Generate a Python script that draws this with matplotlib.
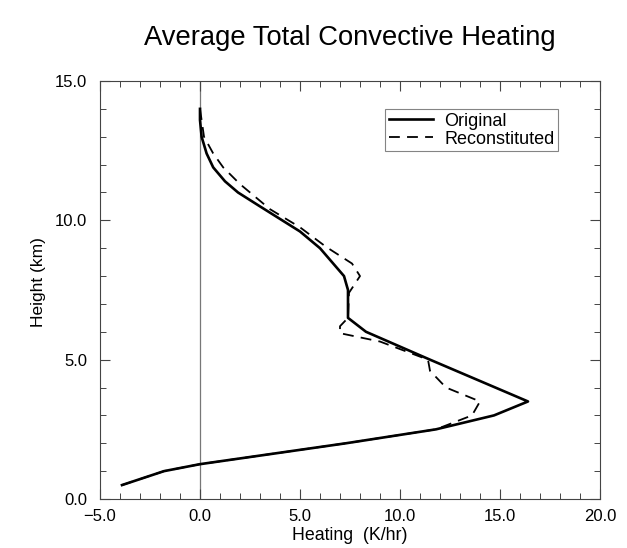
import matplotlib
matplotlib.use("Agg")
import matplotlib.pyplot as plt
from matplotlib.ticker import MultipleLocator, FuncFormatter

plt.rcParams['font.family'] = ['Liberation Sans', 'DejaVu Sans']

# Original profile (heating K/hr vs height km)
orig_heat = [-3.9, -1.8, 0.0, 7.3, 11.8, 14.7, 16.4, 11.5, 8.3, 7.4, 7.4, 7.2, 6.0, 5.0, 3.0, 1.9, 1.25, 0.66, 0.33, 0.08, 0.0, 0.0]
orig_z    = [0.5, 1.0, 1.25, 2.0, 2.5, 3.0, 3.5, 5.0, 6.0, 6.5, 7.5, 8.0, 9.0, 9.6, 10.5, 11.0, 11.4, 11.9, 12.4, 13.0, 13.6, 14.0]

# Reconstituted profile
rec_heat = [-3.9, -1.8, 0.0, 7.3, 11.8, 13.6, 14.0, 12.3, 11.5, 11.4, 9.0, 7.0, 7.0, 7.4, 7.45, 8.0, 7.6, 6.3, 5.0, 3.5, 2.0, 1.16, 0.66, 0.2, 0.08, 0.0]
rec_z    = [0.5, 1.0, 1.25, 2.0, 2.5, 3.0, 3.5, 4.0, 4.6, 5.0, 5.65, 5.95, 6.2, 6.5, 7.4, 8.0, 8.45, 9.05, 9.75, 10.4, 11.3, 11.9, 12.4, 13.0, 13.6, 14.0]

def fmt(v, pos):
    return ('%.1f' % v).replace('-', '\u2212')

fig = plt.figure(figsize=(6.27, 5.48), dpi=100)
ax = fig.add_axes([100/627, 49/548, 500/627, 418/548])

ax.axvline(0.0, color='#777777', lw=0.9, zorder=1)
ax.plot(orig_heat, orig_z, color='black', lw=1.9, ls='-', label='Original', zorder=3)
ax.plot(rec_heat, rec_z, color='black', lw=1.3, ls=(0, (6, 4)), label='Reconstituted', zorder=2)

ax.set_xlim(-5, 20)
ax.set_ylim(0, 15)
ax.xaxis.set_major_locator(MultipleLocator(5))
ax.xaxis.set_minor_locator(MultipleLocator(1))
ax.yaxis.set_major_locator(MultipleLocator(5))
ax.yaxis.set_minor_locator(MultipleLocator(1))
ax.xaxis.set_major_formatter(FuncFormatter(fmt))
ax.yaxis.set_major_formatter(FuncFormatter(fmt))
ax.tick_params(which='both', direction='in', top=True, right=True, color='#444444')
ax.tick_params(which='major', length=7, width=0.8, labelsize=12)
ax.tick_params(axis='x', which='major', pad=7)
ax.tick_params(axis='y', which='major', pad=9)
ax.tick_params(which='minor', length=4, width=0.7)
for s in ax.spines.values():
    s.set_linewidth(0.8)
    s.set_color('#444444')

ax.set_xlabel('Heating  (K/hr)', fontsize=12.8, va='center')
ax.xaxis.set_label_coords(0.5, (499 - 535) / 418)
ax.set_ylabel('Height (km)', fontsize=12.5, va='center')
ax.yaxis.set_label_coords((38 - 100) / 500, (499 - 282) / 418)
fig.text(350/627, 1 - 38/548, 'Average Total Convective Heating', ha='center', va='center', fontsize=19.7)

leg = ax.legend(loc='upper right', fontsize=13, frameon=True, fancybox=False, handlelength=2.45,
                borderpad=0.2, labelspacing=0.05, handletextpad=0.6, borderaxespad=0)
leg.set_bbox_to_anchor(((558 - 100) / 500, 1 - (109 - 81) / 418), transform=ax.transAxes)
leg.get_frame().set_edgecolor('#666666')
leg.get_frame().set_linewidth(0.8)

fig.savefig('out.png', dpi=100)
